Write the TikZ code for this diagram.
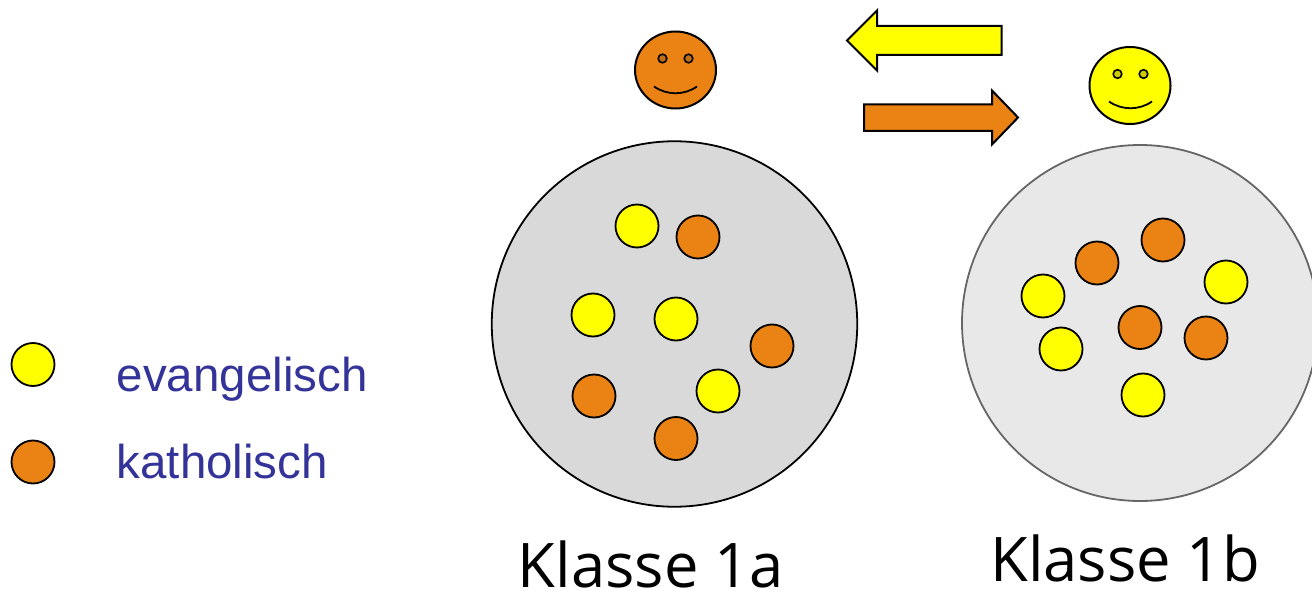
\documentclass[tikz,border=0pt]{standalone}
\usepackage{fontspec}
\setmainfont{Open Sans}
\newfontfamily\legendfont{Liberation Sans}
\definecolor{kath}{RGB}{235,131,20}
\definecolor{evan}{RGB}{255,255,0}
\definecolor{kathEye}{RGB}{190,110,20}
\definecolor{evanEye}{RGB}{204,204,0}
\tikzset{
  dot/.style={circle,draw=black,line width=1.8pt,minimum size=43pt,inner sep=0pt},
  ev/.style={dot,fill=evan},
  ka/.style={dot,fill=kath},
  legendtext/.style={anchor=base west,inner sep=0pt,text=blue!50!black!80!white,font=\legendfont\fontsize{47.5}{47.5}\selectfont},
  classtext/.style={anchor=base,inner sep=0pt,font=\fontsize{61.5}{61.5}\selectfont},
  outline/.style={draw=black,line width=2pt}
}
\begin{document}
\begin{tikzpicture}[x=1pt,y=-1pt]
\useasboundingbox (0,0) rectangle (1312,591);
% class circles
\node[circle,draw=black,line width=1.8pt,fill=black!15,minimum size=365.5pt,inner sep=0pt] (cla) at (674.5,324) {};
\node[circle,draw=black!60,line width=1.8pt,fill=black!9,minimum size=356pt,inner sep=0pt] (clb) at (1140,323) {};
% class a pupils
\node[ev] (a1) at (637,226) {};
\node[ka] (a2) at (698,237) {};
\node[ev] (a3) at (593,315) {};
\node[ev] (a4) at (676,319) {};
\node[ka] (a5) at (772,346) {};
\node[ka] (a6) at (594,396) {};
\node[ev] (a7) at (718,391) {};
\node[ka] (a8) at (676,438.5) {};
% class b pupils
\node[ka] (b1) at (1163,240) {};
\node[ka] (b2) at (1097,263) {};
\node[ev] (b3) at (1226,282) {};
\node[ev] (b4) at (1043,296) {};
\node[ka] (b5) at (1140,327.5) {};
\node[ka] (b6) at (1206,338) {};
\node[ev] (b7) at (1061,349) {};
\node[ev] (b8) at (1143,395) {};
% legend
\node[ev] (le) at (33,364.5) {};
\node[ka] (lk) at (33,462) {};
\node[legendtext] (te) at (116.5,391) {evangelisch};
\node[legendtext] (tk) at (116.5,478) {katholisch};
% labels
\node[classtext] (la) at (651,587) {Klasse 1a};
\node[classtext] (lb) at (1125,581) {Klasse 1b};
% faces
\draw[outline,fill=kath] (675.5,70) ellipse [x radius=40.5pt,y radius=38.5pt];
\draw[line width=1.6pt,fill=kathEye] (662.5,58.5) circle (4.3pt) (688.5,58.5) circle (4.3pt);
\draw[line width=1.8pt] (654,86.5) .. controls (667,95.5) and (684,95.5) .. (697,86.5);
\draw[outline,fill=evan] (1130,85.5) ellipse [x radius=40.5pt,y radius=38.5pt];
\draw[line width=1.6pt,fill=evanEye] (1117.5,74) circle (4.3pt) (1143.5,74) circle (4.3pt);
\draw[line width=1.8pt] (1109,101.5) .. controls (1122,110.5) and (1139,110.5) .. (1152,101.5);
% arrows
\draw[outline,fill=evan] (847,40.5) -- (877,10.5) -- (877,26) -- (1001.5,26) -- (1001.5,55) -- (877,55) -- (877,70.5) -- cycle;
\draw[outline,fill=kath] (864,104.5) -- (992,104.5) -- (992,90.5) -- (1018,117.5) -- (992,144.5) -- (992,131) -- (864,131) -- cycle;
\end{tikzpicture}
\end{document}
